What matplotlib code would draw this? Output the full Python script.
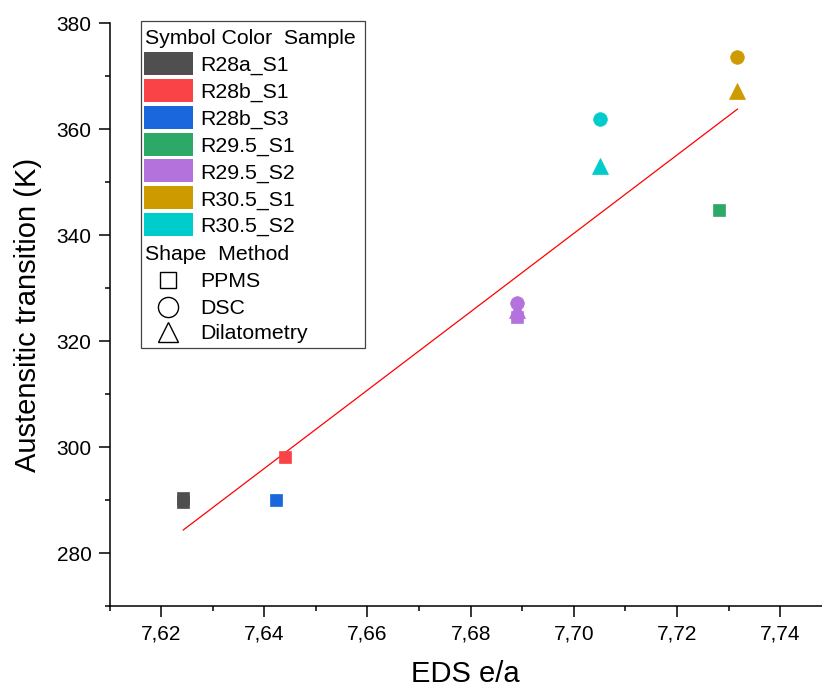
import matplotlib
matplotlib.use("Agg")
import matplotlib.pyplot as plt
import matplotlib.patches as mpatches
from matplotlib.lines import Line2D

plt.rcParams["font.family"] = ["Liberation Sans", "DejaVu Sans"]

# données
echantillons = ["R28a_S1", "R28b_S1", "R28b_S3", "R29.5_S1", "R29.5_S2", "R30.5_S1", "R30.5_S2"]
couleurs = ["#4f4f4f", "#f94346", "#1a66dc", "#2ea866", "#b372dc", "#cd9a00", "#00cccc"]

methodes = ["PPMS", "DSC", "Dilatometry"]
formes = ["s", "o", "^"]
tailles = [9, 9.8, 11.5]

# (echantillon, methode, e/a, T)
pts_echantillon = ["R28a_S1", "R28a_S1", "R28b_S1", "R28b_S3", "R29.5_S1",
                   "R29.5_S2", "R29.5_S2", "R29.5_S2",
                   "R30.5_S1", "R30.5_S1", "R30.5_S2", "R30.5_S2"]
pts_methode = ["PPMS", "PPMS", "PPMS", "PPMS", "PPMS",
               "PPMS", "Dilatometry", "DSC",
               "DSC", "Dilatometry", "DSC", "Dilatometry"]
pts_ea = [7.6243, 7.6243, 7.6440, 7.6422, 7.7282,
          7.6889, 7.6889, 7.6889,
          7.7317, 7.7317, 7.7051, 7.7051]
pts_T = [290.4, 289.6, 298.1, 290.1, 344.8,
         324.6, 325.9, 327.2,
         373.7, 367.3, 361.9, 353.1]

# ajustement linéaire (droite rouge)
fit_ea = [7.6243, 7.7317]
fit_T = [284.4, 363.8]

W, H = 822, 696
fig = plt.figure(figsize=(W / 100, H / 100), dpi=100)
ax = fig.add_axes([109.5 / W, 1 - 606.3 / H, (W - 109.5) / W, (606.3 - 23.3) / H])

ax.plot(fit_ea, fit_T, color="red", lw=0.9, zorder=2)

for ech, meth, x, y in zip(pts_echantillon, pts_methode, pts_ea, pts_T):
    c = couleurs[echantillons.index(ech)]
    i = methodes.index(meth)
    ax.plot(x, y, marker=formes[i], ms=tailles[i], color=c, mec=c, mew=0.5,
            linestyle="none", zorder=3)

ax.set_xlim(7.61, 7.7481)
ax.set_ylim(270, 380)
ax.set_xticks([7.62, 7.64, 7.66, 7.68, 7.70, 7.72, 7.74])
ax.set_xticklabels(["7,62", "7,64", "7,66", "7,68", "7,70", "7,72", "7,74"])
ax.set_xticks([7.61, 7.63, 7.65, 7.67, 7.69, 7.71, 7.73], minor=True)
ax.set_yticks([280, 300, 320, 340, 360, 380])
ax.set_yticks([270, 290, 310, 330, 350, 370], minor=True)

for s in ["top", "right"]:
    ax.spines[s].set_visible(False)
for s in ["left", "bottom"]:
    ax.spines[s].set_linewidth(1.1)
ax.tick_params(which="major", length=8, width=1.1, labelsize=15, pad=5)
ax.tick_params(which="minor", length=3.5, width=1.1)
ax.tick_params(axis="y", which="major", pad=5)

ax.set_xlabel("EDS e/a", fontsize=21, labelpad=12)
ax.set_ylabel("Austensitic transition (K)", fontsize=21, labelpad=10)

# légende dessinée à la main (coordonnées pixel -> figure)
def fx(px):
    return px / W

def fy(py):
    return 1 - py / H

tr = fig.transFigure
cadre = mpatches.Rectangle((fx(141), fy(348.3)), fx(365) - fx(141), fy(20.7) - fy(348.3),
                           transform=tr, fill=False, edgecolor="#444444", lw=0.9)
fig.add_artist(cadre)

taille_leg = 15.3
fig.text(fx(145), fy(44.3), "Symbol Color  Sample", fontsize=taille_leg, va="baseline", transform=tr)
y0, dy = 63.3, 26.9
for k, (nom, c) in enumerate(zip(echantillons, couleurs)):
    yc = y0 + k * dy
    fig.add_artist(mpatches.Rectangle((fx(144), fy(yc + 11.5)), fx(193.3) - fx(144), 23 / H,
                                      transform=tr, facecolor=c, edgecolor="none"))
    fig.text(fx(200), fy(yc + 7.5), nom, fontsize=taille_leg, va="baseline", transform=tr)

fig.text(fx(145), fy(260), "Shape  Method", fontsize=taille_leg, va="baseline", transform=tr)
leg_y = [280, 306.5, 331.7]
leg_ms = [12, 14.5, 14]
for meth, m, yc, ms in zip(methodes, formes, leg_y, leg_ms):
    fig.add_artist(Line2D([fx(168.3)], [fy(yc)], marker=m, ms=ms, mfc="none", mec="black",
                          mew=1.0, linestyle="none", transform=tr))
    fig.text(fx(200), fy(yc + 7), meth, fontsize=taille_leg, va="baseline", transform=tr)

fig.savefig("out.png", dpi=100)
